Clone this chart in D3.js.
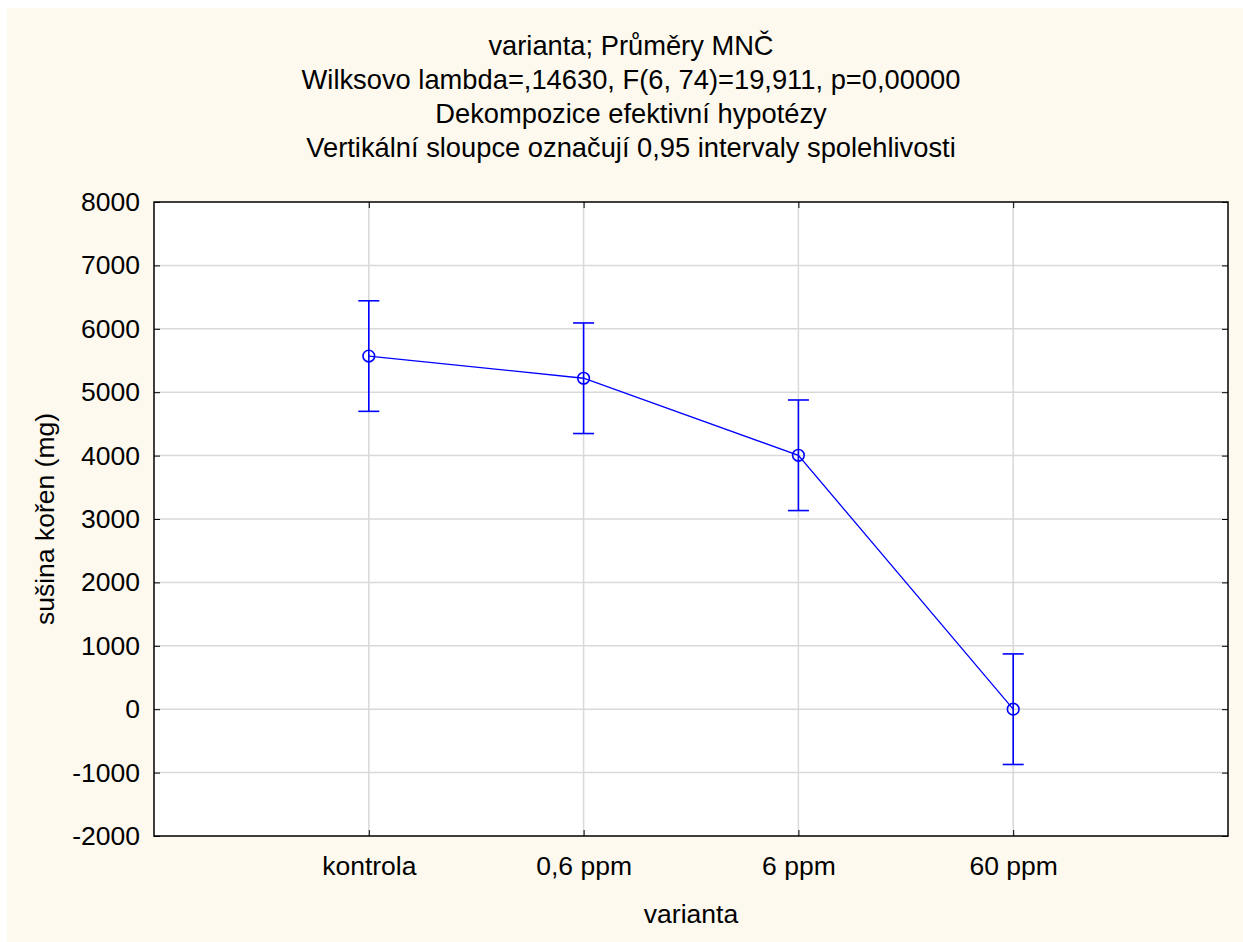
<!DOCTYPE html>
<html>
<head>
<meta charset="utf-8">
<script src="https://cdn.jsdelivr.net/npm/d3@7"></script>
<style>
  html, body { margin: 0; padding: 0; background: #ffffff; }
  svg { display: block; }
  text { font-family: "Liberation Sans", Arial, sans-serif; fill: #000; }
</style>
</head>
<body>
<svg id="chart" width="1243" height="942"></svg>
<script>
const categories = ["kontrola", "0,6 ppm", "6 ppm", "60 ppm"];
const means = [5570, 5220, 4005, 0];
const ciHalf = [872, 872, 872, 872];
const yTicks = [-2000, -1000, 0, 1000, 2000, 3000, 4000, 5000, 6000, 7000, 8000];
const titleLines = [
  "varianta; Průměry MNČ",
  "Wilksovo lambda=,14630, F(6, 74)=19,911, p=0,00000",
  "Dekompozice efektivní hypotézy",
  "Vertikální sloupce označují 0,95 intervaly spolehlivosti"
];
const xTitle = "varianta";
const yTitle = "sušina kořen (mg)";

const svg = d3.select("#chart");
const W = 1243, H = 942;
const plot = { left: 154, right: 1228, top: 202, bottom: 836 };
const blue = "#0000ff";
const fontSize = 26.5;
const titleSize = 27.3;

svg.append("rect").attr("x", 7).attr("y", 8).attr("width", W - 7).attr("height", H - 8).attr("fill", "#fdf9ee");
svg.append("rect").attr("x", plot.left).attr("y", plot.top)
  .attr("width", plot.right - plot.left).attr("height", plot.bottom - plot.top).attr("fill", "#ffffff");

const x = d3.scalePoint().domain(categories).range([plot.left, plot.right]).padding(1);
const y = d3.scaleLinear().domain([-2000, 8000]).range([plot.bottom, plot.top]);

// grid
svg.append("g").selectAll("line.hg").data(yTicks.slice(1, -1)).join("line")
  .attr("x1", plot.left).attr("x2", plot.right)
  .attr("y1", d => y(d)).attr("y2", d => y(d))
  .attr("stroke", "#d9d9d9").attr("stroke-width", 1.5);
svg.append("g").selectAll("line.vg").data(categories).join("line")
  .attr("x1", d => x(d)).attr("x2", d => x(d))
  .attr("y1", plot.top).attr("y2", plot.bottom)
  .attr("stroke", "#d9d9d9").attr("stroke-width", 1.5);

// axes
const yAxisL = d3.axisLeft(y).tickValues(yTicks).tickSize(-6).tickPadding(14).tickFormat(d => String(d));
const gL = svg.append("g").attr("transform", `translate(${plot.left},0)`).call(yAxisL);
gL.select(".domain").remove();
gL.selectAll("text").attr("font-size", fontSize).attr("font-family", "Liberation Sans, Arial, sans-serif").attr("fill", "#000");
gL.selectAll("line").attr("stroke", "#000");

const yAxisR = d3.axisRight(y).tickValues(yTicks).tickSize(-6).tickFormat("");
const gR = svg.append("g").attr("transform", `translate(${plot.right},0)`).call(yAxisR);
gR.select(".domain").remove();
gR.selectAll("line").attr("stroke", "#000");

const xAxisB = d3.axisBottom(x).tickSize(-6).tickPadding(20);
const gB = svg.append("g").attr("transform", `translate(0,${plot.bottom})`).call(xAxisB);
gB.select(".domain").remove();
gB.selectAll("text").attr("font-size", fontSize).attr("font-family", "Liberation Sans, Arial, sans-serif").attr("fill", "#000");
gB.selectAll("line").attr("stroke", "#000");

const xAxisT = d3.axisTop(x).tickSize(-6).tickFormat("");
const gT = svg.append("g").attr("transform", `translate(0,${plot.top})`).call(xAxisT);
gT.select(".domain").remove();
gT.selectAll("line").attr("stroke", "#000");

// frame
svg.append("rect").attr("x", plot.left).attr("y", plot.top)
  .attr("width", plot.right - plot.left).attr("height", plot.bottom - plot.top)
  .attr("fill", "none").attr("stroke", "#000").attr("stroke-width", 1.5);

// data
const data = categories.map((c, i) => ({ c, m: means[i], h: ciHalf[i] }));
const line = d3.line().x(d => x(d.c)).y(d => y(d.m));
svg.append("path").datum(data).attr("d", line).attr("fill", "none").attr("stroke", blue).attr("stroke-width", 1.3);

const eb = svg.append("g").attr("stroke", blue).attr("stroke-width", 1.6).attr("fill", "none");
eb.selectAll("line.v").data(data).join("line")
  .attr("x1", d => x(d.c)).attr("x2", d => x(d.c))
  .attr("y1", d => y(d.m + d.h)).attr("y2", d => y(d.m - d.h));
eb.selectAll("line.t").data(data).join("line")
  .attr("x1", d => x(d.c) - 10.5).attr("x2", d => x(d.c) + 10.5)
  .attr("y1", d => y(d.m + d.h)).attr("y2", d => y(d.m + d.h));
eb.selectAll("line.b").data(data).join("line")
  .attr("x1", d => x(d.c) - 10.5).attr("x2", d => x(d.c) + 10.5)
  .attr("y1", d => y(d.m - d.h)).attr("y2", d => y(d.m - d.h));
eb.selectAll("circle").data(data).join("circle")
  .attr("cx", d => x(d.c)).attr("cy", d => y(d.m)).attr("r", 5.8);

// titles
svg.append("g").selectAll("text").data(titleLines).join("text")
  .attr("x", 631).attr("y", (d, i) => 45 + i * 34)
  .attr("text-anchor", "middle").attr("dominant-baseline", "central")
  .attr("font-size", titleSize).text(d => d);

svg.append("text").attr("x", (plot.left + plot.right) / 2).attr("y", 914)
  .attr("text-anchor", "middle").attr("dominant-baseline", "central")
  .attr("font-size", fontSize).text(xTitle);

svg.append("text").attr("transform", `translate(45,${(plot.top + plot.bottom) / 2}) rotate(-90)`)
  .attr("text-anchor", "middle").attr("dominant-baseline", "central")
  .attr("font-size", fontSize).text(yTitle);
</script>
</body>
</html>
